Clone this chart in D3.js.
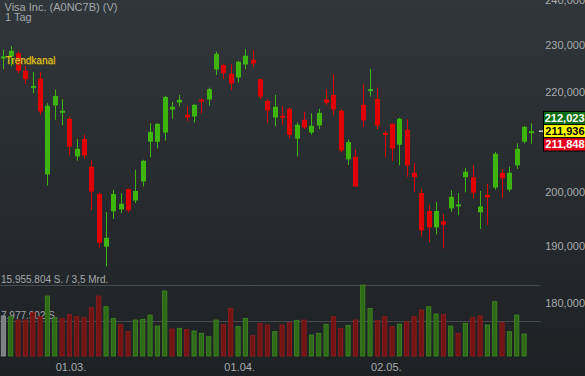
<!DOCTYPE html>
<html><head><meta charset="utf-8">
<script src="https://cdn.jsdelivr.net/npm/d3@7"></script>
<style>
html,body{margin:0;padding:0;background:#26292c;}
svg{display:block;font-family:Arial,"Liberation Sans",sans-serif;}
</style>
</head><body>
<svg id="chart" width="585" height="376"></svg>
<script>
// ---- Data (daily candles, EUR) ----
const opens  = [227.51,227.51,228.22,224.44,220.88,222.73,203.42,217.17,215.94,214.45,206.92,210.37,204.91,199.69,189.94,196.41,196.78,200.64,198.45,202.06,209.83,209.83,211.66,216.35,217.78,215.26,214.92,218.39,218.39,224.73,225.66,223.80,223.02,225.80,226.79,222.66,218.12,214.72,215.06,216.49,210.44,214.24,211.66,213.09,218.46,219.35,216.08,206.34,206.85,217.31,220.23,218.53,211.59,213.43,209.25,212.20,203.74,199.87,196.48,193.45,194.56,196.97,197.34,202.88,202.88,196.23,199.50,200.90,203.74,200.51,205.17,209.83,211.85];
const highs  = [229.07,229.79,228.57,225.51,224.16,224.16,217.65,220.53,218.46,214.92,210.37,211.25,206.14,200.00,196.29,200.45,199.81,200.70,204.33,206.27,213.56,213.50,219.14,217.92,219.35,217.10,217.44,218.67,220.88,228.57,225.94,225.87,226.58,229.15,228.93,222.73,218.46,219.35,217.10,216.76,213.70,215.88,215.61,216.49,220.53,223.73,216.42,210.30,208.34,221.60,224.87,220.88,212.00,213.50,214.65,214.38,205.63,200.64,197.59,198.20,195.92,200.38,199.87,204.65,205.24,200.25,201.61,207.76,204.46,204.91,209.51,213.02,213.56];
const lows   = [224.80,225.37,223.95,221.60,219.69,215.26,201.29,214.24,213.16,207.11,206.08,206.47,196.66,189.82,186.43,194.99,196.11,196.23,197.96,201.10,206.79,208.47,210.03,214.38,216.97,213.97,213.70,215.54,217.17,223.52,222.66,220.38,221.95,224.73,225.23,218.46,213.56,212.88,213.16,210.44,206.92,212.34,211.25,212.34,217.24,215.19,207.69,205.24,201.03,212.75,219.01,212.20,206.79,206.01,205.17,202.95,200.00,191.79,190.74,192.16,189.64,196.29,195.67,200.00,198.88,193.14,193.88,200.51,198.88,200.12,204.46,209.51,209.44];
const closes = [227.51,228.72,224.44,222.66,221.24,215.94,217.10,219.14,216.08,208.86,208.41,207.11,200.12,190.67,191.54,199.69,197.83,196.60,200.25,206.08,211.80,213.43,218.94,216.90,218.33,214.72,217.31,218.12,220.57,228.08,223.95,221.74,226.37,227.65,226.01,219.01,216.15,216.90,214.72,211.18,213.23,212.68,213.02,215.67,217.71,216.35,208.08,209.77,201.10,214.11,220.57,213.09,211.39,208.47,214.45,205.17,202.88,192.90,193.45,196.48,193.94,199.13,197.71,203.93,199.93,197.34,199.01,207.43,202.68,203.74,208.41,212.82,211.94];
// volume in millions of shares (last day: none)
const volumes = [9.00,8.84,8.09,8.09,9.81,8.84,13.48,8.61,8.46,9.36,8.84,8.61,10.86,13.48,11.09,8.46,7.12,5.47,8.09,8.24,9.21,6.74,14.61,6.07,6.22,5.99,5.62,5.09,4.34,8.09,7.12,10.71,6.59,8.46,4.57,7.34,6.97,5.47,6.97,7.49,8.01,8.09,4.72,5.09,7.12,8.84,6.22,6.89,8.09,15.955804,10.71,7.94,8.84,6.59,7.19,7.71,8.84,10.34,11.09,9.44,9.36,6.74,5.09,7.34,8.69,8.99,6.97,12.21,7.49,5.47,9.21,4.94,null];
const priceTicks = [180,190,200,220,230,240];   // 210 is hidden behind the quote boxes
const dateTickIndex = [9,32,52];
const dateTickLabels = ["01.03.","01.04.","02.05."];
const quoteValues = [212.023,211.936,211.848];
const volMax = 15955804;
const title = "Visa Inc. (A0NC7B) (V)";
const period = "1 Tag";

// ---- Drawing ----
const de = d3.formatLocale({decimal:",",thousands:".",grouping:[3],currency:["","€"]});
const fmtPrice = de.format(",.3f");
const fmtVol = de.format(",d");

const svg = d3.select("#chart");
const W=585,H=376;
const defs = svg.append("defs");
const gr = defs.append("linearGradient").attr("id","bg").attr("x1",0).attr("y1",0).attr("x2",0).attr("y2",1);
gr.append("stop").attr("offset","0%").attr("stop-color","#31363a");
gr.append("stop").attr("offset","100%").attr("stop-color","#1e2124");
svg.append("rect").attr("width",W).attr("height",H).attr("fill","url(#bg)");

const idx = d3.range(opens.length);
const x = d3.scalePoint().domain(idx).range([3.3,531.3]);
const y = d3.scaleLog().domain([180,230]).range([303.3,45]);
const yv = d3.scaleLinear().domain([0,volMax]).range([356,285]);

const GREEN="#3db50d", RED="#e00000";

// title
svg.append("text").attr("x",4.5).attr("y",10.6).attr("fill","#a3a7a9").attr("font-size",11).text(title);
svg.append("text").attr("x",5).attr("y",20.8).attr("fill","#a3a7a9").attr("font-size",11).text(period);

// price axis labels (right)
const axisR = d3.axisRight(y).tickValues(priceTicks).tickFormat(fmtPrice).tickSize(0);
const ga = svg.append("g").attr("transform","translate(585,0)").call(axisR);
ga.select(".domain").remove();
ga.selectAll("text").attr("x",0).attr("text-anchor","end").attr("fill","#a9abad")
  .attr("font-size",11).attr("font-family","Arial, 'Liberation Sans', sans-serif");

// volume guide lines & labels
[volMax, volMax/2].forEach(v=>{
  svg.append("line").attr("x1",0).attr("x2",540.5).attr("y1",Math.round(yv(v))+0.5).attr("y2",Math.round(yv(v))+0.5)
    .attr("stroke","#454a4d").attr("stroke-width",1);
});
svg.append("text").attr("x",1).attr("y",yv(volMax)-1.8).attr("fill","#a3a7a9").attr("font-size",10)
  .text(fmtVol(volMax)+" S. / 3,5 Mrd.");
svg.append("text").attr("x",1).attr("y",yv(volMax/2)-1.5).attr("fill","#a3a7a9").attr("font-size",10)
  .text(fmtVol(Math.round(volMax/2))+" S.");

// volume bars
const vdata = idx.filter(i=>volumes[i]!=null).map(i=>({i,v:volumes[i]*(volumes[i]<100?1e6:1),
  dir: i===0?0:(closes[i]>=closes[i-1]?1:-1)}));
svg.append("g").selectAll("rect").data(vdata).join("rect")
  .attr("x",d=>x(d.i)-2).attr("width",4.2)
  .attr("y",d=>yv(d.v)).attr("height",d=>yv(0)-yv(d.v))
  .attr("fill",d=>d.dir===0?"#7d7f80":d.dir>0?"#2e6a18":"#731414")
  .attr("stroke",d=>d.dir===0?"#929495":d.dir>0?"#3f8a20":"#931c1c").attr("stroke-width",0.8);

// candles
const cdata = idx.map(i=>({i,o:opens[i],h:highs[i],l:lows[i],c:closes[i]}));
const cg = svg.append("g").selectAll("g").data(cdata).join("g");
cg.append("line")
  .attr("x1",d=>Math.round(x(d.i))+0.5).attr("x2",d=>Math.round(x(d.i))+0.5)
  .attr("y1",d=>y(d.h)).attr("y2",d=>y(d.l))
  .attr("stroke",d=>d.c>=d.o?GREEN:RED).attr("stroke-width",1);
cg.append("rect")
  .attr("x",d=>Math.round(x(d.i))-2).attr("width",5)
  .attr("y",d=>Math.min(y(d.o),y(d.c)))
  .attr("height",d=>Math.max(2,Math.abs(y(d.o)-y(d.c))))
  .attr("fill",d=>d.c>=d.o?GREEN:RED);

// Trendkanal label
svg.append("text").attr("x",6.3).attr("y",64.8).attr("fill","#7a6a0c").attr("font-size",10).text("Trendkanal");
svg.append("text").attr("x",5.6).attr("y",64).attr("fill","#e9cc1e").attr("font-size",10).text("Trendkanal");

// date labels
svg.append("g").selectAll("text").data(dateTickIndex).join("text")
  .attr("x",(d)=>x(d)+1.7).attr("y",371).attr("text-anchor","middle")
  .attr("fill","#a9abad").attr("font-size",11).text((d,k)=>dateTickLabels[k]);

// last-price marker and quote boxes
const lastY = y(quoteValues[1]);
svg.append("line").attr("x1",539).attr("x2",543).attr("y1",lastY).attr("y2",lastY)
  .attr("stroke","#d0d0d0").attr("stroke-width",1.5);
const boxH = 13.2;
const boxes = [
  {v:quoteValues[0], fill:"#0b6f14", tc:"#ffffff", off:-1},
  {v:quoteValues[1], fill:"#ffff00", tc:"#000000", off:0},
  {v:quoteValues[2], fill:"#e3001b", tc:"#ffffff", off:1}
];
const bg = svg.append("g").selectAll("g").data(boxes).join("g");
bg.append("rect").attr("x",543.5).attr("width",43)
  .attr("y",d=>lastY - boxH/2 + d.off*boxH).attr("height",boxH)
  .attr("fill",d=>d.fill).attr("stroke","#000").attr("stroke-width",1);
bg.append("text").attr("x",584.5).attr("text-anchor","end")
  .attr("y",d=>lastY + d.off*boxH + 4)
  .attr("fill",d=>d.tc).attr("font-size",11).attr("font-weight","bold")
  .text(d=>fmtPrice(d.v));
</script>
</body></html>
